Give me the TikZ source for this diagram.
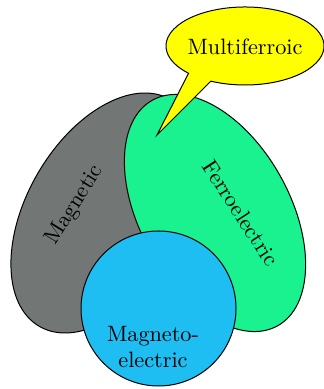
\documentclass[tikz,border=0pt]{standalone}
\definecolor{magcol}{HTML}{727776}
\definecolor{fercol}{HTML}{19F28F}
\definecolor{mecol}{HTML}{1EBEF2}
\definecolor{mfcol}{HTML}{FFFF00}
\begin{document}
\begin{tikzpicture}[x=0.45pt,y=0.45pt,
  region/.style={draw=black, line width=0.45pt},
  lbl/.style={inner sep=0pt, font=\normalsize}]
\useasboundingbox (0,0) rectangle (324,389);
\coordinate (magc) at (105,176);
\coordinate (ferc) at (215,176);
\coordinate (mec) at (158.5,80.5);
\coordinate (mfc) at (245,343);
\coordinate (tip) at (157,254);
\draw[region, fill=magcol, rotate around={60:(magc)}] (magc) ellipse [x radius=131, y radius=78];
\draw[region, fill=fercol, rotate around={-61:(ferc)}] (ferc) ellipse [x radius=129, y radius=75];
\draw[region, fill=mecol] (mec) circle [radius=77.5];
\draw[region, fill=mfcol] (mfc) ++(244.4:79 and 39) arc[start angle=244.4, end angle=584.4, x radius=79, y radius=39] -- (tip) -- cycle;
\node[lbl, rotate=58] (maglbl) at (75,184) {Magnetic};
\node[lbl, rotate=-57] (ferlbl) at (241,176) {Ferroelectric};
\node[lbl, align=center] (melbl) at (153,42) {Magneto-\\electric};
\node[lbl] (mflbl) at (245,342) {Multiferroic};
\end{tikzpicture}
\end{document}
